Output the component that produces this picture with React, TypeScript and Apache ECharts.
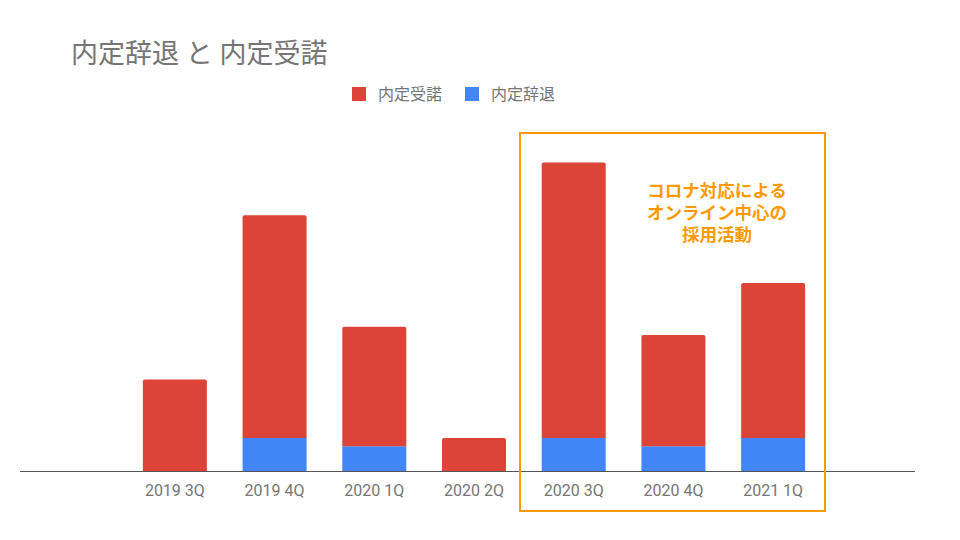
import React, { useEffect, useRef } from "react";
import * as echarts from "echarts";

const categories = ["2019 3Q", "2019 4Q", "2020 1Q", "2020 2Q", "2020 3Q", "2020 4Q", "2021 1Q"];
const declined = [0, 4, 3, 0, 4, 3, 4];
const accepted = [11.1, 27, 14.5, 4, 33.4, 13.5, 18.8];
const titleText = "内定辞退 と 内定受諾";
const noteLines = ["コロナ対応による", "オンライン中心の", "採用活動"];

const RED = "#db4437";
const BLUE = "#4285f4";
const GRAY = "#757575";
const ORANGE = "#ff9900";
const FONT = "Roboto, 'Noto Sans CJK JP', sans-serif";

export default function App() {
  const ref = useRef<HTMLDivElement>(null);
  useEffect(() => {
    if (!ref.current) return;
    const chart = echarts.init(ref.current, null, { renderer: "svg" });
    chart.setOption({
      animation: false,
      backgroundColor: "#ffffff",
      textStyle: { fontFamily: FONT },
      title: {
        text: titleText,
        left: 66,
        top: 35,
        textStyle: { fontSize: 27, fontWeight: "normal", color: GRAY, fontFamily: FONT },
      },
      legend: {
        data: ["内定受諾", "内定辞退"],
        left: 347,
        top: 81,
        itemWidth: 14,
        itemHeight: 14,
        itemGap: 23,
        icon: "rect",
        textStyle: { fontSize: 16, color: GRAY, fontFamily: FONT, padding: [0, 0, 0, 7] },
      },
      grid: { left: 125, right: 137, top: 141, bottom: 69, containLabel: false },
      xAxis: {
        type: "category",
        data: categories,
        axisLine: { show: false },
        axisTick: { show: false },
        axisLabel: { color: GRAY, fontSize: 16, margin: 11, fontFamily: FONT },
      },
      yAxis: {
        type: "value",
        min: 0,
        max: 40,
        show: false,
        splitLine: { show: false },
      },
      series: [
        {
          name: "内定辞退",
          type: "bar",
          stack: "total",
          barWidth: 64,
          data: declined,
          itemStyle: { color: BLUE },
        },
        {
          name: "内定受諾",
          type: "bar",
          stack: "total",
          barWidth: 64,
          data: accepted,
          itemStyle: { color: RED, borderRadius: [2, 2, 0, 0] },
        },
      ],
      graphic: [
        {
          type: "line",
          shape: { x1: 20, y1: 471.5, x2: 915, y2: 471.5 },
          style: { stroke: "#555555", lineWidth: 1 },
          z: 10,
        },
        {
          type: "rect",
          shape: { x: 520, y: 133, width: 305, height: 378 },
          style: { fill: "none", stroke: ORANGE, lineWidth: 2 },
          z: 20,
        },
        {
          type: "text",
          x: 717,
          y: 213,
          style: {
            text: noteLines.join("\n"),
            fill: ORANGE,
            font: "bold 17.5px " + FONT,
            textAlign: "center",
            textVerticalAlign: "middle",
            lineHeight: 22,
          },
          z: 20,
        },
      ],
    });
    return () => chart.dispose();
  }, []);
  return (
    <div
      ref={ref}
      style={{ position: "fixed", left: 0, top: 0, width: 960, height: 540 }}
    />
  );
}
